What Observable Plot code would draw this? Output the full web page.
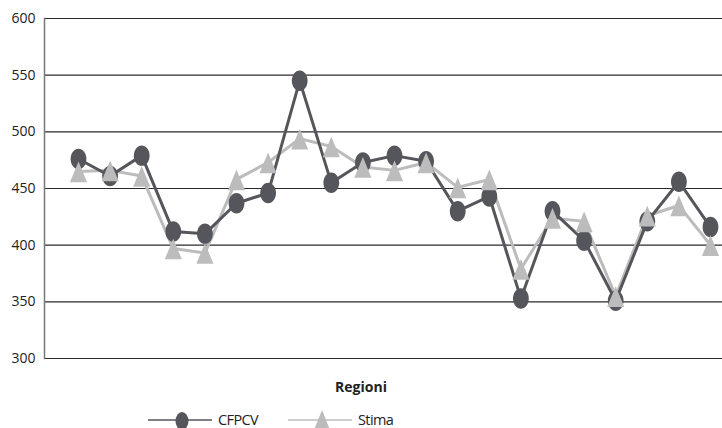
<!DOCTYPE html>
<html><head><meta charset="utf-8">
<script src="https://cdn.jsdelivr.net/npm/d3@7"></script>
<script src="https://cdn.jsdelivr.net/npm/@observablehq/plot@0.6"></script>
<style>
body{margin:0;background:#fff;font-family:"Open Sans",sans-serif;}
#wrap{position:relative;width:722px;height:428px;}
#title{position:absolute;left:0;width:722px;top:377px;text-align:center;font-weight:bold;font-size:14px;color:#222;}
#legend{position:absolute;left:0;top:408px;}
</style></head>
<body><div id="wrap"><div id="chart"></div><div id="title">Regioni</div><svg id="legend" width="722" height="20"></svg></div>
<script>
const regions = d3.range(1, 22);
const cfpcv = [476, 461, 479, 412, 410, 437, 446, 545, 455, 473, 479, 474, 430, 443, 353, 430, 404, 351, 421, 456, 416];
const stima = [465, 466, 461, 397, 393, 458, 473, 494, 487, 469, 466, 473, 451, 458, 379, 424, 421, 355, 426, 435, 400];
const yTicks = [300, 350, 400, 450, 500, 550, 600];
const seriesNames = ["CFPCV", "Stima"];
const colors = ["#55565b", "#bcbcbc"];

const ellipse = {draw(ctx, size){
  const r = Math.sqrt(size/Math.PI), rx = r*0.85, ry = r*1.1, k = 0.5523;
  ctx.moveTo(0,-ry);
  ctx.bezierCurveTo(k*rx,-ry, rx,-k*ry, rx,0);
  ctx.bezierCurveTo(rx,k*ry, k*rx,ry, 0,ry);
  ctx.bezierCurveTo(-k*rx,ry, -rx,k*ry, -rx,0);
  ctx.bezierCurveTo(-rx,-k*ry, -k*rx,-ry, 0,-ry);
  ctx.closePath();
}};
const tri = {draw(ctx, size){
  const r = Math.sqrt(size/Math.PI), a = r*0.95, h = r*2.3;
  ctx.moveTo(0,-h*0.48); ctx.lineTo(a,h*0.52); ctx.lineTo(-a,h*0.52); ctx.closePath();
}};

const chart = Plot.plot({
  width: 722, height: 366,
  marginLeft: 44, marginRight: 0, marginTop: 18, marginBottom: 8,
  style: {fontFamily: "Open Sans", fontSize: "14px", color: "#222"},
  x: {type: "point", domain: regions, padding: 0, round: false, insetLeft: 34, insetRight: 12, axis: null},
  y: {domain: [300, 600], ticks: yTicks, label: null},
  marks: [
    Plot.ruleY(yTicks, {stroke: "#2a2a2a", strokeWidth: 1.2}),
    Plot.frame({anchor: "left", stroke: "#777", strokeWidth: 1.5}),
    Plot.axisY({ticks: yTicks, tickSize: 0, tickPadding: 9, label: null, fontSize: 14}),
    Plot.line(regions, {x: d => d, y: (d, i) => stima[i], stroke: colors[1], strokeWidth: 3}),
    Plot.line(regions, {x: d => d, y: (d, i) => cfpcv[i], stroke: colors[0], strokeWidth: 3}),
    Plot.dot(regions, {x: d => d, y: (d, i) => cfpcv[i], fill: colors[0], symbol: ellipse, r: 9.3}),
    Plot.dot(regions, {x: d => d, y: (d, i) => stima[i], fill: colors[1], symbol: tri, r: 9})
  ]
});
document.getElementById("chart").appendChild(chart);

const lg = d3.select("#legend");
const items = [{x: 148, name: seriesNames[0], color: colors[0], type: "e"}, {x: 288, name: seriesNames[1], color: colors[1], type: "t"}];
items.forEach(it => {
  lg.append("line").attr("x1", it.x).attr("x2", it.x + 64).attr("y1", 12).attr("y2", 12).attr("stroke", it.color).attr("stroke-width", 1.5);
  const cx = it.x + 34;
  if (it.type === "e") lg.append("ellipse").attr("cx", cx).attr("cy", 13).attr("rx", 6.5).attr("ry", 9).attr("fill", it.color);
  else lg.append("path").attr("d", `M${cx},2 L${cx+8},22 L${cx-8},22 Z`).attr("fill", it.color);
  lg.append("text").attr("x", it.x + 70).attr("y", 17).attr("font-size", 14.5).attr("letter-spacing", -0.6).attr("fill", "#222").attr("font-family", "Open Sans").text(it.name);
});
</script></body></html>
